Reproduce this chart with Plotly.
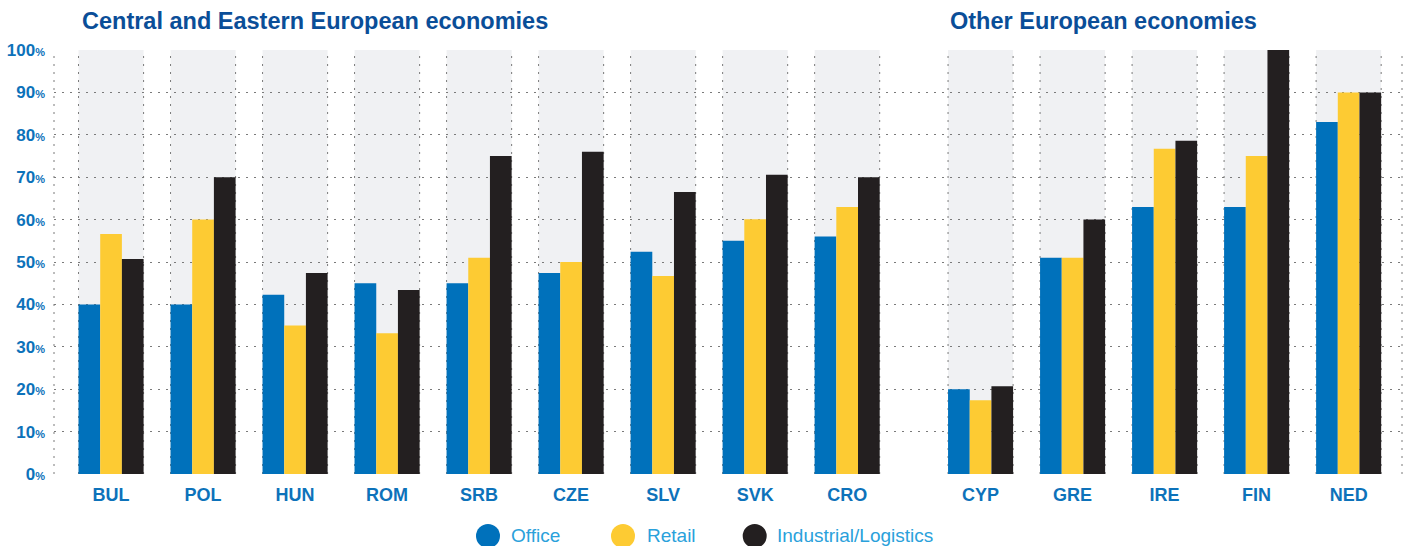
import plotly.graph_objects as go

# data
categories_cee = ["BUL", "POL", "HUN", "ROM", "SRB", "CZE", "SLV", "SVK", "CRO"]
categories_other = ["CYP", "GRE", "IRE", "FIN", "NED"]
office = [40, 40, 42.3, 45, 45, 47.4, 52.4, 55, 56, 20, 51, 63, 63, 83]
retail = [56.6, 60, 35, 33.2, 51, 50, 46.7, 60.1, 63, 17.4, 51, 76.7, 75, 90]
industrial = [50.7, 70, 47.4, 43.4, 75, 76, 66.5, 70.6, 70, 20.7, 60, 78.6, 100, 90]
series_names = ["Office", "Retail", "Industrial/Logistics"]
y_ticks = [0, 10, 20, 30, 40, 50, 60, 70, 80, 90, 100]

colors = ["#0071bb", "#fdcb33", "#231f20"]
grey = "#f0f1f3"
dot_color = "#7a7a7a"
tick_blue = "#0d72ba"
title_blue = "#0a4e98"
legend_blue = "#2aa1db"

categories = categories_cee + categories_other
x_pos = list(range(len(categories_cee))) + [len(categories_cee) + 0.45 + i for i in range(len(categories_other))]

W, H = 1409, 546
L, R, T, B = 54, 7, 50, 72
pw, ph = W - L - R, H - T - B
half = 0.3535

def px_x(px):
    return (px - L) / pw

def px_y(py):
    return 1 - (py - T) / ph

fig = go.Figure()
for name, vals, col in zip(series_names, [office, retail, industrial], colors):
    fig.add_trace(go.Bar(
        x=x_pos, y=vals, name=name,
        marker=dict(color=col, line=dict(width=0)),
        showlegend=False, hoverinfo="skip",
    ))

shapes = []
for x in x_pos:
    shapes.append(dict(type="rect", xref="x", yref="y", x0=x - half, x1=x + half, y0=0, y1=100,
                       fillcolor=grey, line=dict(width=0), layer="below"))
    for xe in (x - half, x + half):
        shapes.append(dict(type="line", xref="x", yref="y", x0=xe, x1=xe, y0=0, y1=100,
                           line=dict(color=dot_color, width=1, dash="2px,6px"), layer="between"))
for xe in (0, 1):
    shapes.append(dict(type="line", xref="paper", yref="y", x0=xe, x1=xe, y0=0, y1=100,
                       line=dict(color=dot_color, width=1, dash="2px,6px"), layer="between"))

# legend drawn by hand (round markers)
legend_y = 535
legend_items = [(488, 508.5), (623, 644.5), (754.7, 775)]
annotations = []
for (cx, tx), name, col in zip(legend_items, series_names, colors):
    shapes.append(dict(type="circle", xref="paper", yref="paper", xsizemode="pixel", ysizemode="pixel",
                       xanchor=px_x(cx), yanchor=px_y(legend_y + 1), x0=-12, x1=12, y0=-12, y1=12,
                       fillcolor=col, line=dict(width=0), layer="above"))
    annotations.append(dict(xref="paper", yref="paper", x=px_x(tx), y=px_y(legend_y), xanchor="left", yanchor="middle",
                            text=name, showarrow=False,
                            font=dict(family="Liberation Sans", size=19, color=legend_blue)))

for text, px0 in [("Central and Eastern European economies", 80), ("Other European economies", 948)]:
    annotations.append(dict(xref="paper", yref="paper", x=px_x(px0), y=px_y(21), xanchor="left", yanchor="middle",
                            text=text, showarrow=False,
                            font=dict(family="Liberation Sans", size=23.5, color=title_blue, weight="bold")))

fig.update_layout(
    width=W, height=H,
    margin=dict(l=L, r=R, t=T, b=B),
    plot_bgcolor="white", paper_bgcolor="white",
    barmode="group", bargap=0.293, bargroupgap=0,
    shapes=shapes, annotations=annotations,
    font=dict(family="Liberation Sans"),
)
fig.update_xaxes(
    range=[-0.62, 14.03], tickvals=x_pos, ticktext=categories,
    showgrid=False, zeroline=False, showline=False, ticks="",
    tickfont=dict(family="Liberation Sans", size=18, color=tick_blue, weight="bold"),
    ticklabelstandoff=8,
)
fig.update_yaxes(
    range=[0, 100], tickvals=y_ticks,
    ticktext=[f"{v}<span style='font-size:11px'>%</span>" for v in y_ticks],
    showgrid=True, gridcolor=dot_color, gridwidth=1, griddash="2px,6px",
    zeroline=False, showline=False, ticks="",
    tickfont=dict(family="Liberation Sans", size=17, color=tick_blue, weight="bold"),
    ticklabelstandoff=8,
)

fig.write_html("out.html", config={"displayModeBar": False},
               post_script="document.body.style.margin='0';")
